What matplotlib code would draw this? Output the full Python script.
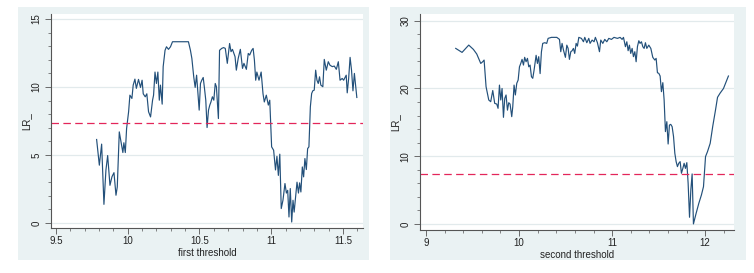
import matplotlib
matplotlib.use('agg')
import matplotlib.pyplot as plt
from matplotlib.patches import Rectangle
from matplotlib.ticker import MultipleLocator

# first threshold LR curve
x1 = [9.783, 9.802, 9.818, 9.834, 9.848, 9.86, 9.876, 9.89, 9.904, 9.918,
      9.927, 9.941, 9.955, 9.966, 9.973, 9.983, 9.992, 10.006, 10.015, 10.029,
      10.038, 10.05, 10.06, 10.075, 10.089, 10.1, 10.108, 10.122, 10.133, 10.145,
      10.159, 10.173, 10.18, 10.19, 10.2, 10.21, 10.22, 10.228, 10.24, 10.247,
      10.26, 10.27, 10.284, 10.298, 10.312, 10.363, 10.41, 10.423, 10.437, 10.447,
      10.46, 10.47, 10.48, 10.49, 10.498, 10.507, 10.516, 10.526, 10.535, 10.544,
      10.553, 10.563, 10.572, 10.58, 10.59, 10.6, 10.61, 10.618, 10.632, 10.64,
      10.655, 10.668, 10.68, 10.694, 10.71, 10.72, 10.73, 10.748, 10.757, 10.77,
      10.785, 10.8, 10.81, 10.827, 10.84, 10.85, 10.864, 10.874, 10.883, 10.892,
      10.9, 10.915, 10.93, 10.943, 10.952, 10.966, 10.98, 10.99, 11.003, 11.017,
      11.03, 11.04, 11.05, 11.06, 11.07, 11.082, 11.096, 11.106, 11.115, 11.124,
      11.133, 11.143, 11.152, 11.16, 11.17, 11.18, 11.19, 11.198, 11.207, 11.217,
      11.226, 11.235, 11.245, 11.254, 11.263, 11.273, 11.282, 11.29, 11.3, 11.31,
      11.319, 11.328, 11.337, 11.346, 11.36, 11.37, 11.384, 11.398, 11.41, 11.426,
      11.44, 11.454, 11.468, 11.48, 11.495, 11.505, 11.523, 11.53, 11.54, 11.55,
      11.56, 11.57, 11.58, 11.588, 11.597]
lr1 = [6.14, 4.25, 5.8, 1.37, 3.9, 4.96, 2.77, 3.4, 3.7, 2.04,
       2.65, 6.7, 5.84, 5.18, 5.9, 5.18, 6.95, 8.18, 9.4, 9.16,
       10.14, 10.58, 9.9, 10.56, 9.97, 10.5, 9.5, 9.28, 9.5, 8.18,
       7.8, 9.03, 9.4, 11.1, 10.26, 11.1, 9.03, 10.14, 8.74, 11.5,
       12.7, 12.96, 12.77, 12.96, 13.33, 13.33, 13.33, 13.33, 12.7, 12.1,
       10.75, 9.97, 10.87, 9.4, 8.3, 10.26, 10.5, 10.7, 9.9, 9.03,
       7.02, 8.3, 8.67, 8.9, 9.28, 9.03, 10.26, 10.02, 7.68, 12.7,
       12.84, 12.9, 12.84, 11.74, 13.2, 12.6, 12.77, 12.23, 11.24, 12.1,
       12.77, 11.37, 11.74, 11.3, 12.47, 12.35, 12.7, 12.84, 11.98, 10.5,
       11.1, 10.5, 11.1, 9.5, 8.9, 9.4, 8.67, 9.03, 5.6, 5.35,
       3.9, 4.9, 3.5, 5.06, 1.06, 1.67, 2.9, 2.2, 2.4, 0.44,
       2.53, 0.07, 1.67, 0.8, 1.9, 3.0, 2.2, 2.95, 2.28, 4.12,
       3.39, 4.74, 3.93, 5.47, 5.6, 8.54, 9.52, 9.72, 9.77, 11.24,
       10.5, 10.26, 10.75, 10.14, 10.02, 12.03, 11.24, 11.86, 11.6, 11.5,
       11.54, 11.3, 11.86, 10.5, 10.63, 10.5, 10.87, 9.57, 10.63, 12.18,
       11.24, 9.72, 11.0, 10.14, 9.23]

# second threshold LR curve
x2 = [9.319, 9.387, 9.459, 9.509, 9.545, 9.588, 9.609, 9.624, 9.645, 9.674,
      9.695, 9.717, 9.738, 9.76, 9.774, 9.789, 9.803, 9.817, 9.832, 9.846,
      9.86, 9.875, 9.889, 9.903, 9.921, 9.932, 9.946, 9.96, 9.975, 9.99,
      10.004, 10.018, 10.032, 10.047, 10.06, 10.075, 10.09, 10.104, 10.118, 10.133,
      10.147, 10.161, 10.183, 10.197, 10.211, 10.226, 10.24, 10.254, 10.276, 10.297,
      10.312, 10.348, 10.405, 10.434, 10.448, 10.462, 10.477, 10.498, 10.513, 10.527,
      10.541, 10.556, 10.57, 10.584, 10.598, 10.613, 10.627, 10.642, 10.67, 10.692,
      10.706, 10.728, 10.749, 10.763, 10.785, 10.806, 10.82, 10.842, 10.864, 10.878,
      10.9, 10.921, 10.943, 10.964, 10.993, 11.02, 11.057, 11.086, 11.107, 11.122,
      11.143, 11.158, 11.172, 11.186, 11.2, 11.215, 11.229, 11.244, 11.258, 11.272,
      11.287, 11.3, 11.315, 11.33, 11.344, 11.358, 11.373, 11.394, 11.416, 11.437,
      11.459, 11.473, 11.487, 11.502, 11.516, 11.53, 11.545, 11.559, 11.573, 11.588,
      11.602, 11.616, 11.63, 11.645, 11.66, 11.674, 11.688, 11.702, 11.716, 11.731,
      11.745, 11.76, 11.774, 11.788, 11.803, 11.817, 11.832, 11.846, 11.86, 11.874,
      11.903, 11.932, 11.96, 11.982, 12.004, 12.025, 12.054, 12.082, 12.111, 12.133,
      12.16, 12.197, 12.226, 12.25]
lr2 = [25.92, 25.33, 26.41, 25.77, 25.09, 23.7, 23.95, 24.2, 20.27, 18.3,
       18.05, 19.7, 17.8, 17.7, 17.07, 20.5, 18.3, 20.0, 15.74, 18.54,
       19.04, 16.8, 17.9, 17.7, 15.84, 17.3, 20.5, 19.04, 20.76, 21.25,
       23.2, 23.7, 24.3, 23.46, 24.6, 23.95, 24.45, 23.2, 23.46, 21.74,
       21.5, 22.7, 24.9, 23.7, 24.7, 22.2, 25.4, 26.66, 26.76, 26.66,
       27.4, 27.55, 27.55, 27.25, 25.43, 26.66, 25.68, 24.6, 26.4, 25.92,
       24.3, 25.43, 25.58, 25.92, 25.18, 26.66, 26.26, 27.55, 27.4, 26.9,
       27.55, 26.76, 27.4, 26.66, 27.15, 26.9, 27.55, 26.76, 25.43, 27.15,
       26.66, 27.25, 26.9, 27.4, 27.25, 27.55, 27.4, 27.55, 27.25, 27.55,
       26.17, 26.9, 25.58, 26.4, 25.18, 25.92, 24.7, 25.43, 23.95, 26.17,
       27.05, 26.66, 26.9, 26.17, 25.92, 26.76, 25.92, 26.4, 25.92, 24.6,
       24.2, 24.45, 22.33, 22.23, 21.84, 19.53, 20.86, 18.3, 13.63, 15.1,
       11.8, 14.6, 14.7, 14.36, 12.9, 10.43, 9.2, 8.46, 8.95, 9.2,
       7.48, 8.2, 8.95, 8.2, 9.05, 6.0, 0.98, 5.0, 7.38, 0.0,
       1.57, 3.05, 4.28, 5.5, 9.94, 10.67, 11.9, 14.46, 16.8, 18.7,
       19.3, 20.0, 21.0, 21.84]

crit = 7.35
line_col = '#23507a'
crit_col = '#e3265a'
bg_col = '#eaf2f3'
grid_col = '#e2eaec'

plt.rcParams['font.family'] = ['Liberation Sans', 'DejaVu Sans']

fig = plt.figure(figsize=(7.54, 2.73), dpi=100)
W, H = 754, 273

# light panel backgrounds, kept behind the axes
for (bx0, bx1) in [(18, 369), (390, 746)]:
    fig.patches.append(Rectangle((bx0 / W, 1 - 260 / H), (bx1 - bx0) / W, 253 / H,
                                 transform=fig.transFigure, facecolor=bg_col,
                                 edgecolor='none', zorder=-5))

ax1 = fig.add_axes([51 / W, 1 - 228 / H, 312 / W, 214 / H])
ax2 = fig.add_axes([420 / W, 1 - 230 / H, 314 / W, 216 / H])


def style(ax, xlim, ylim, xmaj, xmin, ymaj, ymin, xlabel):
    ax.set_facecolor('white')
    ax.set_xlim(*xlim)
    ax.set_ylim(*ylim)
    ax.xaxis.set_major_locator(MultipleLocator(xmaj))
    ax.xaxis.set_minor_locator(MultipleLocator(xmin))
    ax.yaxis.set_major_locator(MultipleLocator(ymaj))
    ax.yaxis.set_minor_locator(MultipleLocator(ymin))
    for s in ['top', 'right']:
        ax.spines[s].set_visible(False)
    for s in ['left', 'bottom']:
        ax.spines[s].set_color('#555555')
        ax.spines[s].set_linewidth(0.8)
    ax.grid(True, which='major', axis='y', color=grid_col, linewidth=0.9)
    ax.set_axisbelow(True)
    ax.tick_params(which='major', length=4, width=0.6, color='#555555',
                   labelsize=7, labelcolor='#222222', pad=2)
    ax.tick_params(which='minor', length=2, width=0.5, color='#555555')
    ax.tick_params(axis='y', labelrotation=90, pad=3)
    for lab in ax.get_yticklabels():
        lab.set_va('center')
    ax.set_xlabel(xlabel, fontsize=7, color='#222222', labelpad=1.5)
    ax.set_ylabel('LR_', fontsize=7, color='#222222', labelpad=0)


ax1.plot(x1, lr1, color=line_col, linewidth=0.85)
ax1.axhline(crit, color=crit_col, linestyle=(0, (6, 3.5)), linewidth=0.9)
style(ax1, (9.465, 11.64), (-0.37, 15.37), 0.5, 0.1, 5, 1, 'first threshold')
ax1.set_xticks([9.5, 10, 10.5, 11, 11.5])
ax1.set_xticklabels(['9.5', '10', '10.5', '11', '11.5'])

ax2.plot(x2, lr2, color=line_col, linewidth=0.85)
ax2.axhline(crit, color=crit_col, linestyle=(0, (6, 3.5)), linewidth=0.9)
style(ax2, (8.935, 12.31), (-0.9, 31.0), 1, 0.2, 10, 2, 'second threshold')

fig.savefig('out.png', dpi=100)
